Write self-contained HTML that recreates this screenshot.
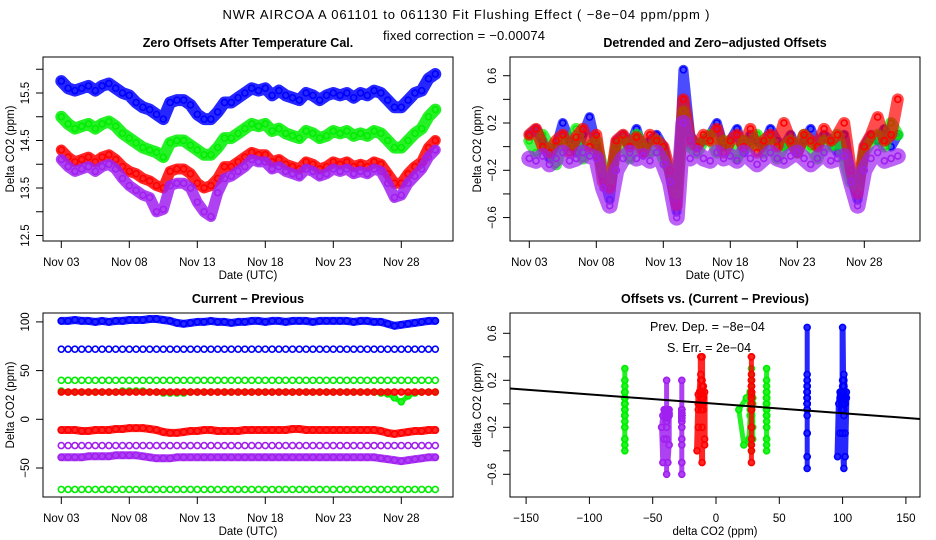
<!DOCTYPE html>
<html><head><meta charset="utf-8">
<style>
html,body{margin:0;padding:0;background:#fff;}
svg{display:block;font-family:"Liberation Sans",sans-serif;}
</style></head>
<body>
<svg id="chart" width="936" height="540" viewBox="0 0 936 540">
<text x="466" y="19" font-size="13" text-anchor="middle" textLength="487">NWR   AIRCOA A   061101 to 061130   Fit Flushing Effect ( −8e−04 ppm/ppm )</text>
<text x="464" y="40" font-size="13" text-anchor="middle" textLength="162">fixed correction = −0.00074</text>
</svg>
<script>
// ---------- data ----------
const days = [3,3.5,4,4.5,5,5.5,6,6.5,7,7.5,8,8.5,9,9.5,10,10.5,11,11.5,12,12.5,13,13.5,14,14.5,15,15.5,16,16.5,17,17.5,18,18.5,19,19.5,20,20.5,21,21.5,22,22.5,23,23.5,24,24.5,25,25.5,26,26.5,27,27.5,28,28.5,29,29.5,30,30.5];
const dateTicks = [3,8,13,18,23,28];
const dateTickLabels = ["Nov 03","Nov 08","Nov 13","Nov 18","Nov 23","Nov 28"];
// panel 1: zero offsets
const zeroBlue = [15.75,15.6,15.55,15.6,15.65,15.55,15.65,15.7,15.6,15.5,15.45,15.3,15.2,15.15,15.05,14.95,15.3,15.35,15.35,15.25,15.05,14.95,14.95,15.1,15.3,15.3,15.4,15.5,15.6,15.55,15.6,15.45,15.55,15.45,15.4,15.35,15.5,15.45,15.35,15.45,15.5,15.45,15.5,15.4,15.5,15.45,15.55,15.5,15.35,15.2,15.2,15.35,15.5,15.55,15.8,15.9];
const zeroGreen = [15.0,14.85,14.75,14.8,14.85,14.75,14.85,14.9,14.8,14.65,14.55,14.45,14.35,14.3,14.25,14.15,14.45,14.5,14.5,14.4,14.3,14.2,14.2,14.35,14.55,14.55,14.65,14.75,14.85,14.8,14.85,14.7,14.75,14.65,14.6,14.55,14.7,14.65,14.55,14.6,14.7,14.65,14.7,14.6,14.65,14.6,14.7,14.65,14.5,14.35,14.35,14.5,14.65,14.75,15.0,15.15];
const zeroRed = [14.3,14.15,14.05,14.1,14.15,14.05,14.15,14.2,14.1,13.95,13.85,13.8,13.7,13.65,13.55,13.5,13.85,13.9,13.9,13.8,13.6,13.5,13.55,13.7,13.95,13.95,14.05,14.15,14.25,14.2,14.2,14.05,14.1,14.0,13.95,13.9,14.05,14.0,13.9,13.95,14.05,14.0,14.05,13.95,14.0,13.95,14.05,14.0,13.8,13.6,13.6,13.8,13.95,14.05,14.35,14.5];
const zeroPurple = [14.1,13.95,13.85,13.9,13.95,13.85,13.95,14.0,13.9,13.7,13.55,13.45,13.35,13.3,13.0,13.05,13.55,13.6,13.6,13.5,13.2,13.0,12.9,13.4,13.7,13.75,13.85,13.95,14.1,14.05,14.05,13.9,13.95,13.85,13.8,13.75,13.9,13.85,13.75,13.8,13.9,13.85,13.9,13.8,13.85,13.8,13.9,13.85,13.6,13.3,13.35,13.6,13.75,13.9,14.15,14.3];
const zeroTicks = [12.5,13,13.5,14,14.5,15,15.5,16];
const zeroTickLabels = ["12.5","","13.5","","14.5","","15.5",""];
// panel 2: detrended offsets
const detBlue = [0.1,0.15,0.05,-0.1,0.0,0.2,0.05,-0.05,0.1,0.25,0.0,-0.25,-0.45,0.05,0.1,0.0,0.15,-0.05,0.05,0.1,0.0,-0.25,-0.55,0.65,0.1,0.0,0.05,0.1,0.2,0.0,0.05,0.15,-0.05,0.1,0.05,0.0,0.15,0.05,0.0,0.1,-0.05,0.05,0.15,0.0,0.1,0.05,-0.05,0.1,-0.25,-0.45,0.0,0.1,0.05,0.15,0.0,0.1];
const detGreen = [0.05,-0.05,0.1,0.0,-0.15,0.05,0.0,0.15,-0.1,0.0,0.05,-0.2,-0.3,0.0,0.05,-0.1,0.1,0.0,-0.05,0.05,-0.1,-0.2,-0.4,0.3,0.0,-0.05,0.05,0.1,-0.05,0.05,0.0,-0.1,0.05,0.0,0.1,-0.05,0.05,-0.1,0.0,0.05,-0.05,0.1,0.0,-0.1,0.05,0.0,0.1,-0.1,-0.3,-0.35,-0.05,0.05,0.1,0.0,0.2,0.1];
const detRed = [0.1,0.15,0.0,-0.05,0.05,0.1,-0.05,0.08,0.15,0.0,0.1,-0.3,-0.35,0.05,0.1,0.0,0.08,-0.05,0.1,0.05,0.0,-0.2,-0.5,0.4,0.05,0.0,0.1,0.05,0.15,-0.05,0.05,0.1,0.0,0.15,-0.05,0.05,0.1,0.0,0.2,0.05,-0.05,0.1,0.05,0.0,0.15,0.05,0.1,0.2,-0.2,-0.4,0.0,0.1,0.25,0.05,0.1,0.4];
const detPurple = [-0.1,-0.12,-0.08,-0.15,-0.1,-0.05,-0.12,-0.1,-0.05,-0.08,-0.1,-0.35,-0.5,-0.2,-0.1,-0.05,-0.1,-0.08,-0.12,-0.05,-0.15,-0.3,-0.6,0.2,-0.1,-0.05,-0.1,-0.12,-0.05,-0.1,-0.08,-0.12,-0.05,-0.1,-0.15,-0.1,-0.05,-0.1,-0.12,-0.08,-0.05,-0.1,-0.15,-0.1,-0.05,-0.12,-0.1,-0.08,-0.3,-0.5,-0.2,-0.1,-0.05,-0.12,-0.1,-0.08];
const offTicks = [-0.6,-0.4,-0.2,0,0.2,0.4,0.6];
const offTickLabels = ["−0.6","","−0.2","","0.2","","0.6"];
// panel 3: current - previous
const cpBlueHi = [101,101,102,101,101,100,101,100,101,101,102,102,102,103,103,102,101,99,98,99,100,100,101,100,100,99,100,100,101,101,100,101,101,100,101,101,101,100,101,101,101,101,101,100,101,101,100,100,98,96,97,98,99,100,101,101];
const cpBlueLo = [72,72,72,72,72,72,72,72,72,72,72,72,72,72,72,72,72,72,72,72,72,72,72,72,72,72,72,72,72,72,72,72,72,72,72,72,72,72,72,72,72,72,72,72,72,72,72,72,72,72,72,72,72,72,72,72];
const cpGreenA = [40,40,40,40,40,40,40,40,40,40,40,40,40,40,40,40,40,40,40,40,40,40,40,40,40,40,40,40,40,40,40,40,40,40,40,40,40,40,40,40,40,40,40,40,40,40,40,40,40,40,40,40,40,40,40,40];
const cpGreenB = [29,28,28,28,28,28,28,28,28,29,29,29,29,28,28,27,27,27,27,28,28,28,28,28,28,28,28,28,28,28,28,28,28,28,28,28,28,28,28,28,28,28,28,28,28,28,28,27,26,22,18,24,27,28,28,28];
const cpRedA = [28,28,28,28,28,28,28,28,28,28,28,28,28,28,28,28,28,28,28,28,28,28,28,28,28,28,28,28,28,28,28,28,28,28,28,28,28,28,28,28,28,28,28,28,28,28,28,28,28,28,28,28,28,28,28,28];
const cpRedB = [-11,-11,-11,-12,-12,-11,-11,-11,-10,-10,-9,-9,-9,-10,-11,-13,-14,-14,-13,-12,-12,-11,-11,-12,-12,-12,-12,-11,-11,-11,-11,-11,-11,-11,-10,-10,-11,-11,-11,-11,-11,-11,-11,-11,-11,-11,-11,-12,-14,-15,-14,-13,-12,-12,-11,-11];
const cpPurpleA = [-27,-27,-27,-27,-27,-27,-27,-27,-27,-27,-27,-27,-27,-27,-27,-27,-27,-27,-27,-27,-27,-27,-27,-27,-27,-27,-27,-27,-27,-27,-27,-27,-27,-27,-27,-27,-27,-27,-27,-27,-27,-27,-27,-27,-27,-27,-27,-27,-27,-27,-27,-27,-27,-27,-27,-27];
const cpPurpleB = [-39,-39,-39,-39,-38,-38,-38,-38,-37,-37,-37,-37,-38,-39,-40,-40,-40,-39,-39,-39,-39,-39,-39,-39,-39,-39,-39,-39,-39,-39,-39,-39,-39,-39,-39,-39,-39,-39,-39,-39,-39,-39,-39,-39,-39,-39,-39,-40,-41,-42,-43,-42,-41,-40,-39,-39];
const cpGreenC = [-72,-72,-72,-72,-72,-72,-72,-72,-72,-72,-72,-72,-72,-72,-72,-72,-72,-72,-72,-72,-72,-72,-72,-72,-72,-72,-72,-72,-72,-72,-72,-72,-72,-72,-72,-72,-72,-72,-72,-72,-72,-72,-72,-72,-72,-72,-72,-72,-72,-72,-72,-72,-72,-72,-72,-72];
const cpTicks = [-50,0,50,100];
const cpTickLabels = ["−50","0","50","100"];
// panel 4: offsets vs current-previous
const diffTicks = [-150,-100,-50,0,50,100,150];
const diffTickLabels = ["−150","−100","−50","0","50","100","150"];
const fitSlope = -0.0008;
const fitIntercept = 0.0;

// ---------- helpers ----------
const NS = "http://www.w3.org/2000/svg";
const svg = document.getElementById("chart");
function mk(tag, attrs, parent) {
  const e = document.createElementNS(NS, tag);
  for (const k in attrs) e.setAttribute(k, attrs[k]);
  (parent || svg).appendChild(e);
  return e;
}
const COL = {blue:"#0000ff", green:"#00ee00", red:"#ff0000", purple:"#a020f0"};

function panel(name, box, xs, ys, xTicks, xLabels, yTicks, yLabels, title, xTitle, yTitle) {
  const g = mk("g", {});
  
  
  const r = mk("rect", {x:box.l, y:box.t, width:box.r-box.l, height:box.b-box.t, fill:"none", stroke:"#000", "stroke-width":1}, g);
  
  
  const t = mk("text", {x:(box.l+box.r)/2, y:box.t-10, "font-size":12.5, "font-weight":"bold", "text-anchor":"middle"}, g);
  t.textContent = title;
  
  
  const xa = mk("g", {}, g);
  
  
  mk("line", {x1:xs(xTicks[0]), x2:xs(xTicks[xTicks.length-1]), y1:box.b, y2:box.b, stroke:"#000"}, xa);
  xTicks.forEach((v,i) => {
    mk("line", {x1:xs(v), x2:xs(v), y1:box.b, y2:box.b+7, stroke:"#000"}, xa);
    const tl = mk("text", {x:xs(v), y:box.b+25, "font-size":11.5, "text-anchor":"middle"}, xa);
    tl.textContent = xLabels[i];
    
    
  });
  const xt = mk("text", {x:(box.l+box.r)/2, y:box.b+38, "font-size":11.5, "text-anchor":"middle"}, g);
  xt.textContent = xTitle;
  
  
  const ya = mk("g", {}, g);
  
  
  mk("line", {x1:box.l, x2:box.l, y1:ys(yTicks[0]), y2:ys(yTicks[yTicks.length-1]), stroke:"#000"}, ya);
  yTicks.forEach((v,i) => {
    mk("line", {x1:box.l-7, x2:box.l, y1:ys(v), y2:ys(v), stroke:"#000"}, ya);
    if (yLabels[i]) {
      const lx = box.l - 14, ly = ys(v);
      const tl = mk("text", {x:lx, y:ly, "font-size":11.5, "text-anchor":"middle", transform:`rotate(-90 ${lx} ${ly})`}, ya);
      tl.textContent = yLabels[i];
      
      
    }
  });
  const yx = box.l - 29, yy = (box.t+box.b)/2;
  const yt = mk("text", {x:yx, y:yy, "font-size":11.5, "text-anchor":"middle", transform:`rotate(-90 ${yx} ${yy})`}, g);
  yt.textContent = yTitle;
  
  
  return g;
}

function series(name, color, xsArr, ysArr, xs, ys, lineW, parent, op) {
  const g = mk("g", {}, parent);
  
  
  if (lineW > 0) {
    const pts = xsArr.map((x,i) => xs(x).toFixed(1)+","+ys(ysArr[i]).toFixed(1)).join(" ");
    const pl = mk("polyline", {points:pts, fill:"none", stroke:color, "stroke-width":lineW, "stroke-linejoin":"round", "stroke-linecap":"round", opacity:op||0.85}, g);
    
    
  }
  xsArr.forEach((x,i) => {
    const c = mk("circle", {cx:xs(x), cy:ys(ysArr[i]), r:3, fill:"none", stroke:color, "stroke-width":1.6}, g);
    
    
  });
}

// ---------- panel 1 ----------
const b1 = {l:43, r:453, t:57, b:241};
const x1 = d => 61.3 + (d-3)*13.6;
const y1 = v => 93 - (v-15.5)*47.5;
const p1 = panel("zero-offsets-panel", b1, x1, y1, dateTicks, dateTickLabels, zeroTicks, zeroTickLabels, "Zero Offsets After Temperature Cal.", "Date (UTC)", "Delta CO2 (ppm)");
series("zero-blue", COL.blue, days, zeroBlue, x1, y1, 12, p1);
series("zero-green", COL.green, days, zeroGreen, x1, y1, 12, p1);
series("zero-red", COL.red, days, zeroRed, x1, y1, 11, p1);
series("zero-purple", COL.purple, days, zeroPurple, x1, y1, 11, p1);

// ---------- panel 2 ----------
const b2 = {l:510, r:920, t:57, b:241};
const x2 = d => 529.3 + (d-3)*13.4;
const y2 = v => 123 - (v-0.2)*118.2;
const p2 = panel("detrended-panel", b2, x2, y2, dateTicks, dateTickLabels, offTicks, offTickLabels, "Detrended and Zero−adjusted Offsets", "Date (UTC)", "Delta CO2 (ppm)");
series("det-blue", COL.blue, days, detBlue, x2, y2, 10, p2, 0.7);
series("det-green", COL.green, days, detGreen, x2, y2, 12, p2, 0.7);
series("det-red", COL.red, days, detRed, x2, y2, 12, p2, 0.7);
series("det-purple", COL.purple, days, detPurple, x2, y2, 16, p2, 0.7);

// ---------- panel 3 ----------
const b3 = {l:43, r:453, t:313, b:497};
const y3 = v => 419.3 - v*0.974;
const p3 = panel("current-previous-panel", b3, x1, y3, dateTicks, dateTickLabels, cpTicks, cpTickLabels, "Current − Previous", "Date (UTC)", "Delta CO2 (ppm)");
series("cp-blue-high", COL.blue, days, cpBlueHi, x1, y3, 8, p3);
series("cp-blue-low", COL.blue, days, cpBlueLo, x1, y3, 0, p3);
series("cp-green-a", COL.green, days, cpGreenA, x1, y3, 0, p3);
series("cp-green-b", COL.green, days, cpGreenB, x1, y3, 5, p3);
series("cp-red-a", COL.red, days, cpRedA, x1, y3, 5, p3);
series("cp-red-b", COL.red, days, cpRedB, x1, y3, 8, p3);
series("cp-purple-a", COL.purple, days, cpPurpleA, x1, y3, 0, p3);
series("cp-purple-b", COL.purple, days, cpPurpleB, x1, y3, 8, p3);
series("cp-green-c", COL.green, days, cpGreenC, x1, y3, 0, p3);

// ---------- panel 4 ----------
const b4 = {l:510, r:920, t:313, b:497};
const x4 = v => 716 + v*1.266;
const y4 = v => 380.3 - (v-0.2)*117.5;
const p4 = panel("offsets-vs-diff-panel", b4, x4, y4, diffTicks, diffTickLabels, offTicks, offTickLabels, "Offsets vs. (Current − Previous)", "delta CO2 (ppm)", "delta CO2 (ppm)");
series("scatter-green-c", COL.green, cpGreenC, detGreen, x4, y4, 5, p4);
series("scatter-purple-b", COL.purple, cpPurpleB, detPurple, x4, y4, 5, p4);
series("scatter-purple-a", COL.purple, cpPurpleA, detPurple, x4, y4, 5, p4);
series("scatter-red-b", COL.red, cpRedB, detRed, x4, y4, 6, p4);
series("scatter-green-b", COL.green, cpGreenB, detGreen, x4, y4, 5, p4);
series("scatter-red-a", COL.red, cpRedA, detRed, x4, y4, 5, p4);
series("scatter-green-a", COL.green, cpGreenA, detGreen, x4, y4, 5, p4);
series("scatter-blue-low", COL.blue, cpBlueLo, detBlue, x4, y4, 5, p4);
series("scatter-blue-high", COL.blue, cpBlueHi, detBlue, x4, y4, 6, p4);
const xL = -162.6, xR = 161.3;
const fit = mk("line", {x1:x4(xL), y1:y4(fitIntercept+fitSlope*xL), x2:x4(xR), y2:y4(fitIntercept+fitSlope*xR), stroke:"#000", "stroke-width":2}, p4);


const t1 = mk("text", {x:650, y:331, "font-size":12.5}, p4);
t1.textContent = "Prev. Dep. =  −8e−04";


const t2 = mk("text", {x:667, y:352, "font-size":12.5}, p4);
t2.textContent = "S. Err. =  2e−04";


</script>
</body></html>
